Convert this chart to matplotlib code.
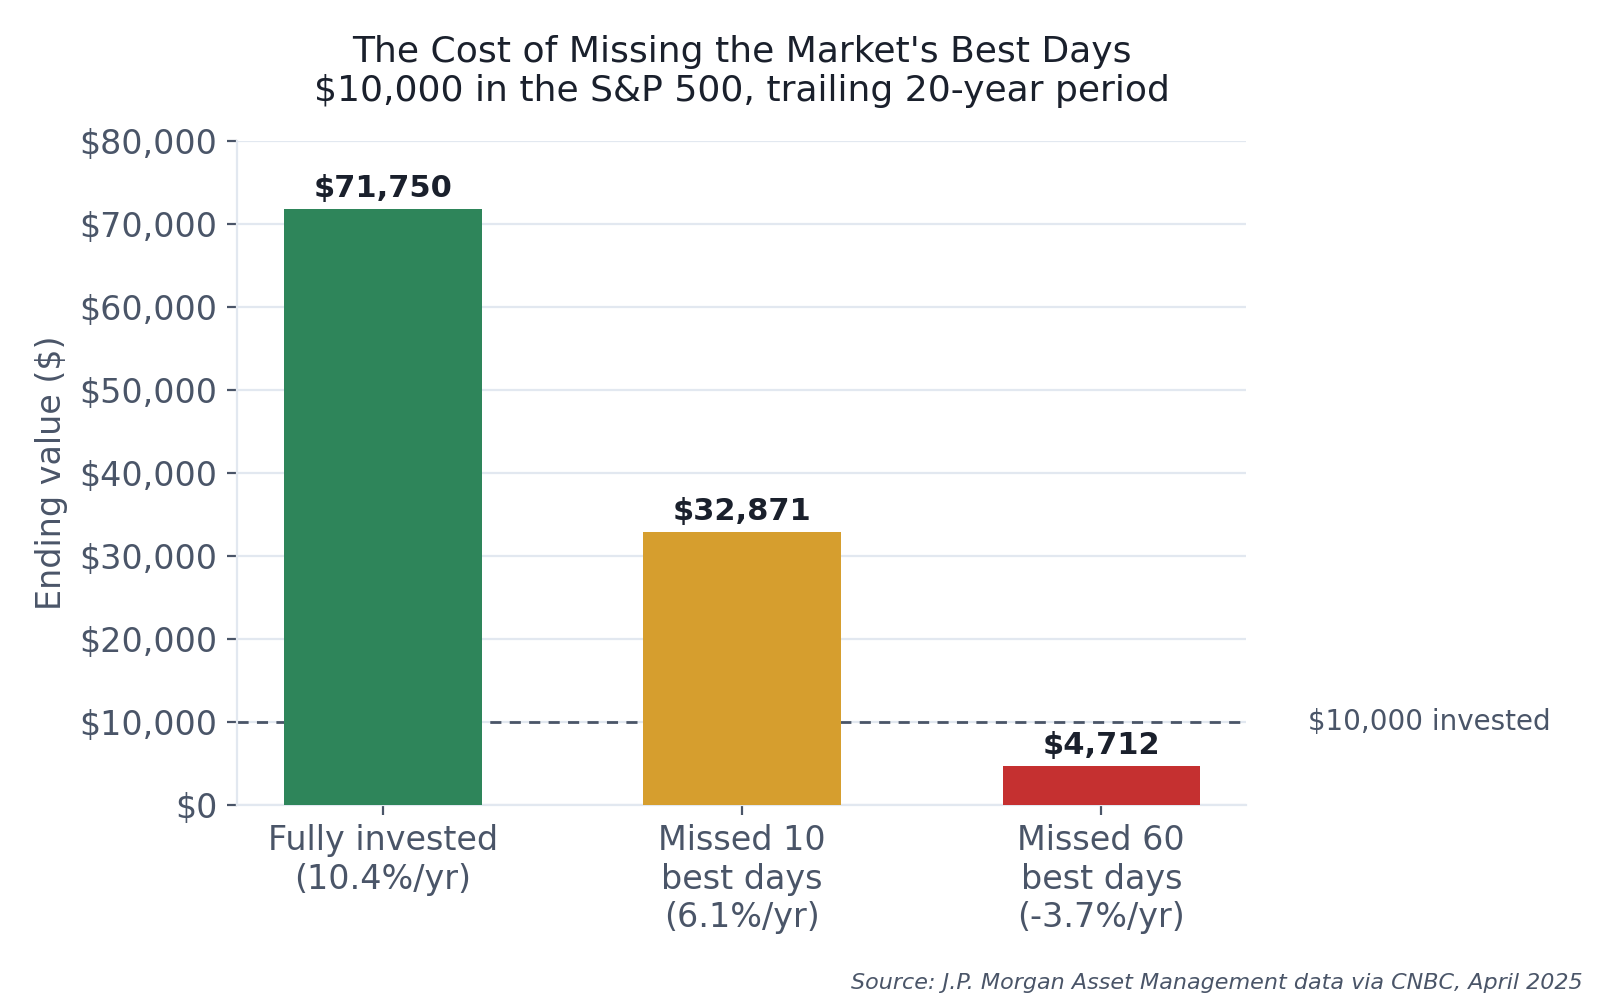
import matplotlib
matplotlib.use("Agg")
import matplotlib.pyplot as plt
from matplotlib.ticker import FuncFormatter

categories = ["Fully invested\n(10.4%/yr)", "Missed 10\nbest days\n(6.1%/yr)", "Missed 60\nbest days\n(-3.7%/yr)"]
values = [71750, 32871, 4712]
value_labels = ["$71,750", "$32,871", "$4,712"]
colors = ["#2e855a", "#d69e2e", "#c53030"]
invested = 10000

plt.rcParams['font.family'] = ['DejaVu Sans']
fig = plt.figure(figsize=(8, 5), dpi=200)
ax = fig.add_axes([0.148, 0.195, 0.631, 0.664])

x = list(range(len(categories)))
ax.bar(x, values, width=0.55, color=colors, zorder=3)
for xi, v, lab in zip(x, values, value_labels):
    ax.annotate(lab, (xi, v), xytext=(0, 2.2), textcoords="offset points",
                ha="center", va="bottom", fontsize=11, fontweight="bold", color="#1a202c", zorder=4)

ax.axhline(invested, color="#4a5568", linestyle=(0, (4, 3)), linewidth=1.0, zorder=2)
ax.text(1.061, invested, "$10,000 invested", transform=ax.get_yaxis_transform(),
        ha="left", va="center", fontsize=10, color="#4a5568")

ax.set_ylim(0, 80000)
ax.set_xlim(-0.407, 2.404)
ax.set_yticks(range(0, 80001, 10000))
ax.yaxis.set_major_formatter(FuncFormatter(lambda v, p: f"${v:,.0f}"))
ax.set_xticks(x)
ax.set_xticklabels(categories)
ax.tick_params(axis="both", labelsize=12, colors="#4a5568", length=3.5, width=0.8)
ax.grid(axis="y", color="#e2e8f0", linewidth=0.8, zorder=0)
ax.set_axisbelow(True)
for s in ["top", "right"]:
    ax.spines[s].set_visible(False)
for s in ["left", "bottom"]:
    ax.spines[s].set_color("#e2e8f0")
    ax.spines[s].set_linewidth(0.8)

ax.set_ylabel("Ending value ($)", fontsize=12, color="#4a5568")
ax.set_title("The Cost of Missing the Market's Best Days\n$10,000 in the S&P 500, trailing 20-year period",
             fontsize=13, color="#1a202c", pad=14.3)
fig.text(0.989, 0.007, "Source: J.P. Morgan Asset Management data via CNBC, April 2025",
         ha="right", va="bottom", fontsize=8, style="italic", color="#4a5568")

fig.savefig("out.png", dpi=200)
